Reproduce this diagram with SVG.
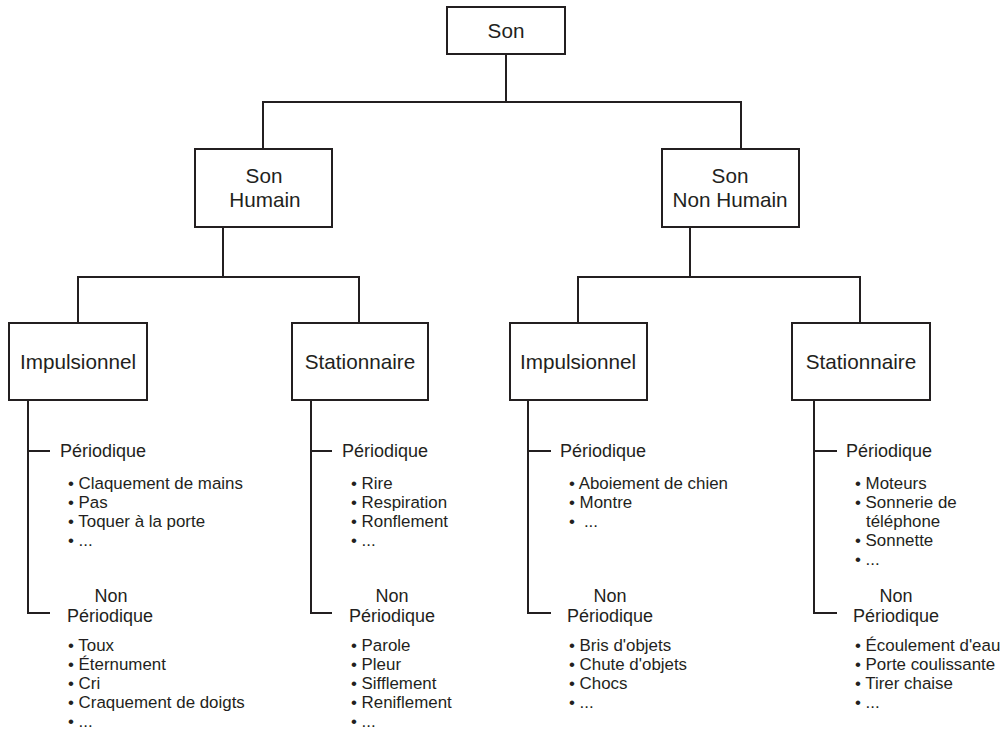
<svg xmlns="http://www.w3.org/2000/svg" width="1001" height="730" viewBox="0 0 1001 730">
<style>
.box{fill:#fff;stroke:#231f20;stroke-width:2}
.ln{fill:none;stroke:#231f20;stroke-width:2}
text{font-family:"Liberation Sans",Arial,sans-serif;fill:#231f20}
.t{font-size:20.7px;text-anchor:middle}
.h{font-size:18px}
.hn{font-size:18px;text-anchor:middle}
.b{font-size:16.9px}
</style>
<rect width="1001" height="730" fill="#fff"/>
<g id="connectors">
<path class="ln" d="M506,54V102M263,149V102H741V149"/>
<path class="ln" d="M223,227V277M78,323V277H359V323"/>
<path class="ln" d="M690,227V277M578,323V277H860V323"/>
<path class="ln" d="M28,400V613H50M28,451H50"/>
<path class="ln" d="M311,400V613H332M311,451H332"/>
<path class="ln" d="M528,400V613H551M528,451H551"/>
<path class="ln" d="M814,400V613H837M814,451H837"/>
</g>
<g id="n-son"><rect class="box" x="447" y="7" width="118" height="47"/><text class="t" x="506" y="38">Son</text></g>
<g id="n-humain"><rect class="box" x="195" y="149" width="137" height="78"/><text class="t" x="264" y="183">Son</text><text class="t" x="265" y="207">Humain</text></g>
<g id="n-nonhumain"><rect class="box" x="662" y="149" width="137" height="78"/><text class="t" x="730" y="183">Son</text><text class="t" x="730" y="207">Non Humain</text></g>
<g id="n-h-imp"><rect class="box" x="9" y="323" width="138" height="77"/><text class="t" x="78" y="369">Impulsionnel</text></g>
<g id="n-h-stat"><rect class="box" x="292" y="323" width="136" height="77"/><text class="t" x="360" y="369">Stationnaire</text></g>
<g id="n-nh-imp"><rect class="box" x="510" y="323" width="137" height="77"/><text class="t" x="578" y="369">Impulsionnel</text></g>
<g id="n-nh-stat"><rect class="box" x="792" y="323" width="138" height="77"/><text class="t" x="861" y="369">Stationnaire</text></g>

<g id="h-imp-p">
<text class="h" x="60" y="457">Périodique</text>
<text class="b" x="68" y="489">• Claquement de mains</text>
<text class="b" x="68" y="508">• Pas</text>
<text class="b" x="68" y="527">• Toquer à la porte</text>
<text class="b" x="68" y="546">• ...</text>
</g>
<g id="h-imp-np">
<text class="hn" x="111" y="602">Non</text>
<text class="h" x="67" y="622">Périodique</text>
<text class="b" x="68" y="651">• Toux</text>
<text class="b" x="68" y="670">• Éternument</text>
<text class="b" x="68" y="689">• Cri</text>
<text class="b" x="68" y="708">• Craquement de doigts</text>
<text class="b" x="68" y="727">• ...</text>
</g>
<g id="h-stat-p">
<text class="h" x="342" y="457">Périodique</text>
<text class="b" x="351" y="489">• Rire</text>
<text class="b" x="351" y="508">• Respiration</text>
<text class="b" x="351" y="527">• Ronflement</text>
<text class="b" x="351" y="546">• ...</text>
</g>
<g id="h-stat-np">
<text class="hn" x="392" y="602">Non</text>
<text class="h" x="349" y="622">Périodique</text>
<text class="b" x="351" y="651">• Parole</text>
<text class="b" x="351" y="670">• Pleur</text>
<text class="b" x="351" y="689">• Sifflement</text>
<text class="b" x="351" y="708">• Reniflement</text>
<text class="b" x="351" y="727">• ...</text>
</g>
<g id="nh-imp-p">
<text class="h" x="560" y="457">Périodique</text>
<text class="b" x="569" y="489">• Aboiement de chien</text>
<text class="b" x="569" y="508">• Montre</text>
<text class="b" x="569" y="527">•<tspan dx="9">...</tspan></text>
</g>
<g id="nh-imp-np">
<text class="hn" x="610" y="602">Non</text>
<text class="h" x="567" y="622">Périodique</text>
<text class="b" x="569" y="651">• Bris d'objets</text>
<text class="b" x="569" y="670">• Chute d'objets</text>
<text class="b" x="569" y="689">• Chocs</text>
<text class="b" x="569" y="708">• ...</text>
</g>
<g id="nh-stat-p">
<text class="h" x="846" y="457">Périodique</text>
<text class="b" x="855" y="489">• Moteurs</text>
<text class="b" x="855" y="508">• Sonnerie de</text>
<text class="b" x="866" y="527">téléphone</text>
<text class="b" x="855" y="546">• Sonnette</text>
<text class="b" x="855" y="565">• ...</text>
</g>
<g id="nh-stat-np">
<text class="hn" x="896" y="602">Non</text>
<text class="h" x="853" y="622">Périodique</text>
<text class="b" x="855" y="651">• Écoulement d'eau</text>
<text class="b" x="855" y="670">• Porte coulissante</text>
<text class="b" x="855" y="689">• Tirer chaise</text>
<text class="b" x="855" y="708">• ...</text>
</g>
</svg>
